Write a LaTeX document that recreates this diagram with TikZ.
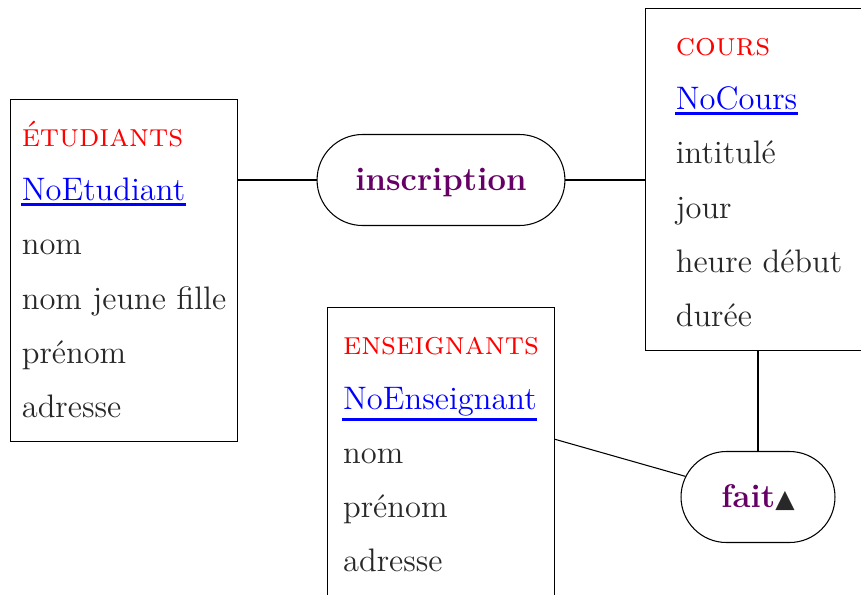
\documentclass[tikz,border=0pt]{standalone}
\usepackage{fontspec}
\newfontfamily\symfont{DejaVu Sans}
\usetikzlibrary{shapes.misc,calc}
\definecolor{txt}{RGB}{40,40,40}
\definecolor{relc}{RGB}{102,0,102}
\tikzset{
  entity/.style={draw, anchor=north west, minimum width=85.8pt, inner xsep=2pt,
    inner ysep=0pt, align=left, text depth=9.2pt,
    font=\fontsize{12.3}{20.46}\selectfont, text=txt},
  relation/.style={draw, rounded rectangle, minimum height=34.4pt, inner sep=0pt,
    text height=10.4pt, text depth=2.4pt,
    font=\fontsize{12.4}{14}\selectfont\bfseries, text=relc},
  link/.style={draw, line width=0.4pt}
}
\newcommand\ehead[1]{\textcolor{red}{\textsc{#1}}}
\newcommand\ekey[1]{\textcolor{blue}{\setbox0=\hbox{#1}\leavevmode
  \rlap{\kern-0.3pt\vrule width \dimexpr\wd0+0.6pt\relax
    height \dimexpr-\dp0-0.75pt\relax depth \dimexpr\dp0+1.85pt\relax}\box0}}
\begin{document}
\begin{tikzpicture}[x=0.378pt, y=-0.378pt]
  \useasboundingbox (0,0) rectangle (861,594);
  \clip (0,0) rectangle (861,594);
  \node[entity, text height=120.1pt] (etud) at (10,99)
    {\ehead{étudiants}\\ \ekey{NoEtudiant}\\ nom\\ nom jeune fille\\ prénom\\ adresse};
  \node[entity, text height=120.1pt] (cours) at (645,8)
    {\ehead{cours}\\ \ekey{NoCours}\\ intitulé\\ jour\\ heure début\\ durée};
  \node[entity, text height=99.64pt, text depth=12pt] (ens) at (327,307.3)
    {\ehead{enseignants}\\ \ekey{NoEnseignant}\\ nom\\ prénom\\ adresse};
  \node[relation, minimum width=93.7pt] (insc) at (441,180) {inscription};
  \node[relation, minimum width=58.2pt] (fait) at (758,497)
    {fait\textcolor{txt}{\fontsize{9.5}{10}\symfont\mdseries ▲}};
  \coordinate (ensport) at ($(ens.north east)+(0,132)$);
  \path[link] (etud.east |- insc.west) -- (insc.west);
  \path[link] (insc.east) -- (insc.east -| cours.west);
  \path[link] (fait.north) -- (fait.north |- cours.south);
  \path[link] (ensport) -- (fait);
\end{tikzpicture}
\end{document}
